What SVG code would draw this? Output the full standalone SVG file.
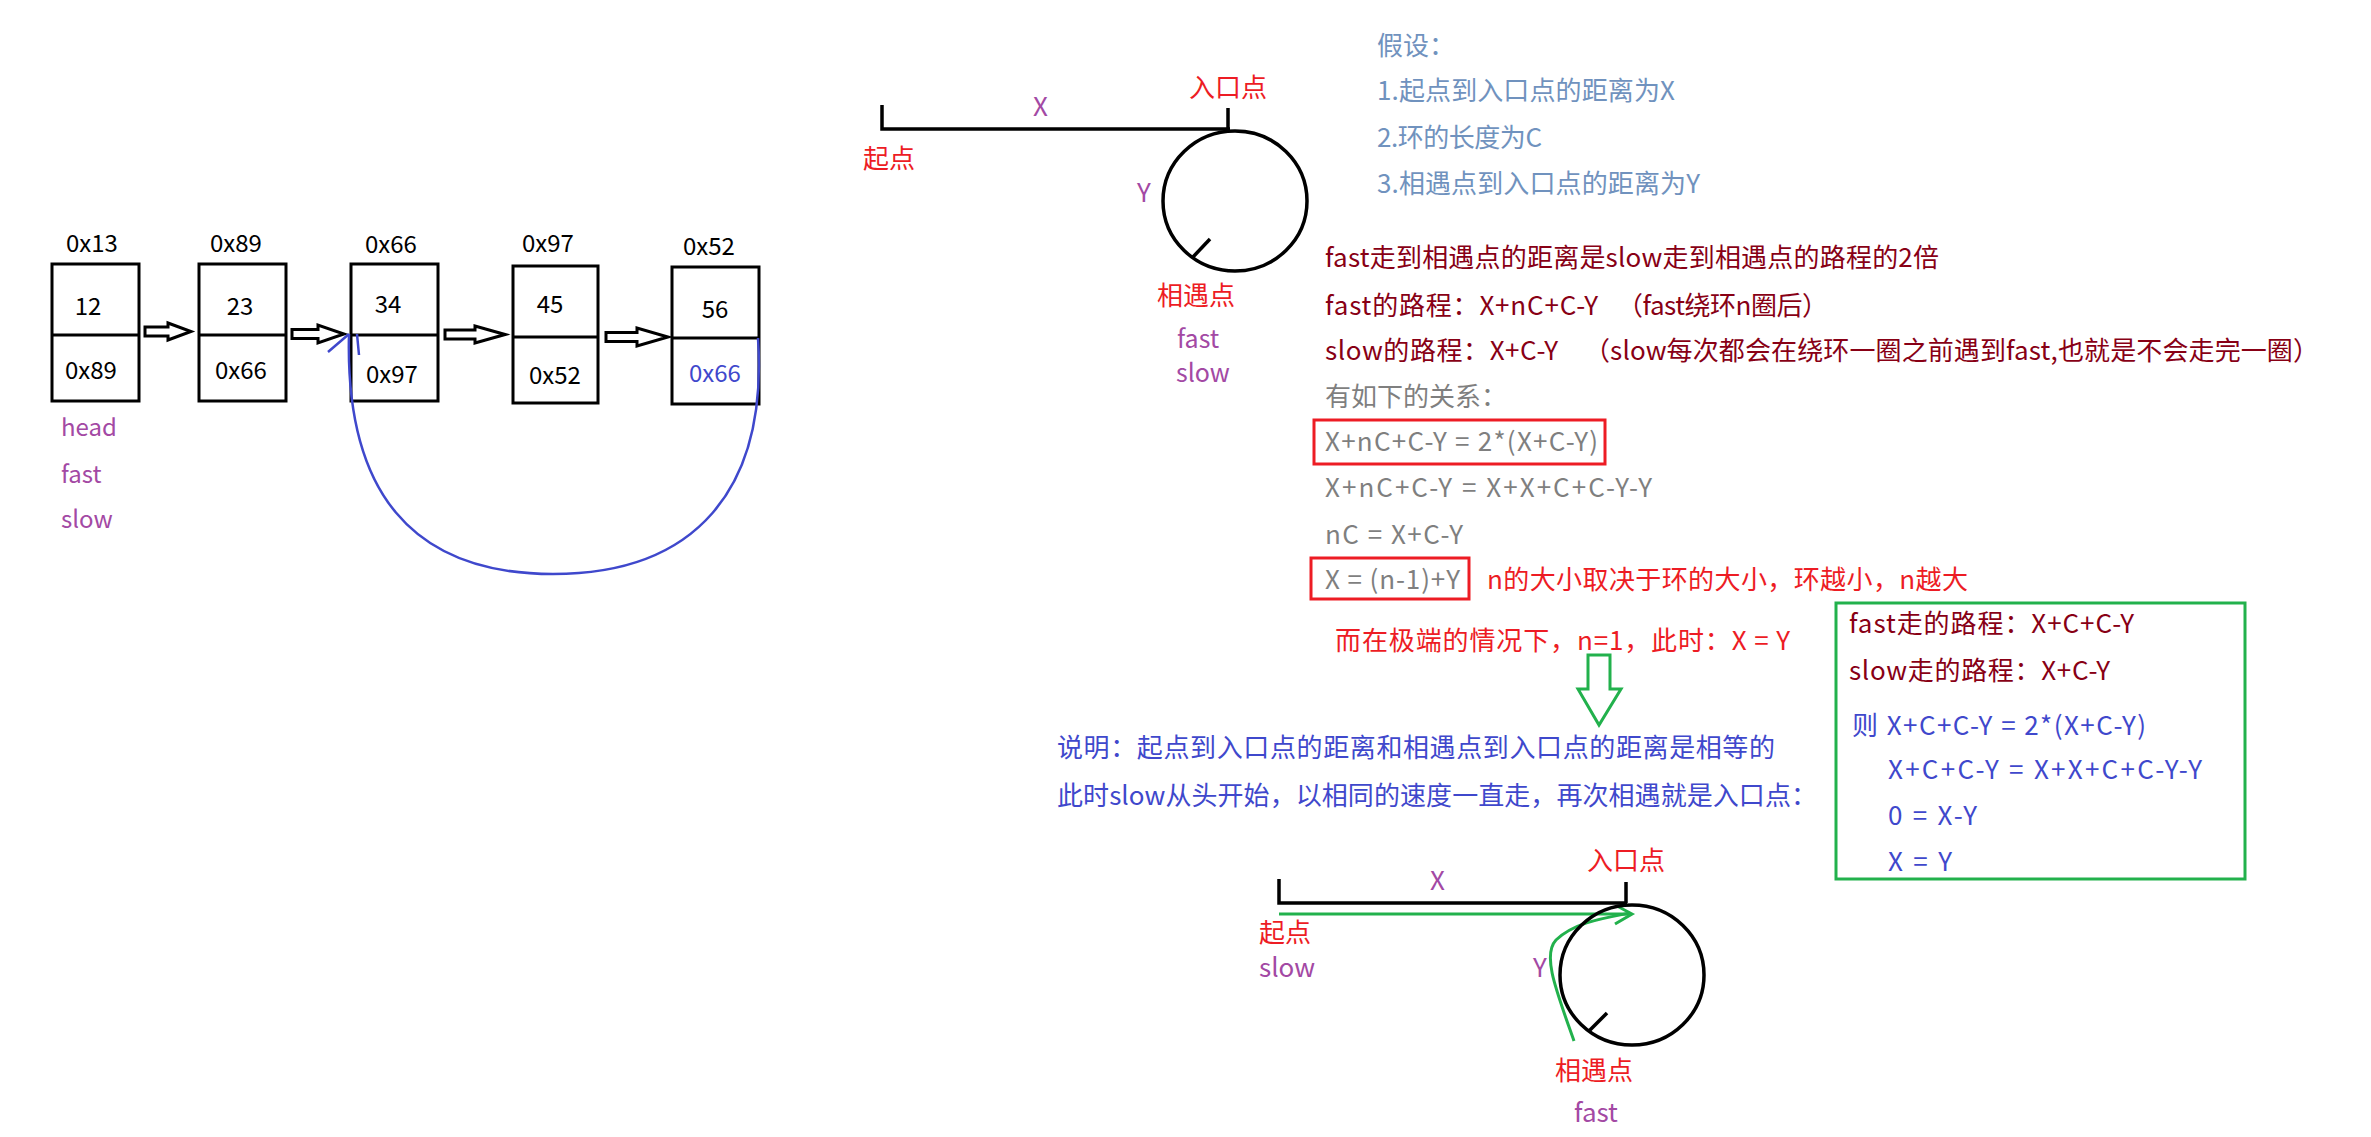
<svg xmlns="http://www.w3.org/2000/svg" width="2371" height="1137" viewBox="0 0 2371 1137">
<style>
text{font-family:'Noto Sans CJK SC','Noto Sans',sans-serif;font-size:26px}
.k{fill:#000}
.r{fill:#ed1c24}
.dr{fill:#880015}
.g{fill:#7f7f7f}
.p{fill:#a349a4}
.b{fill:#3f48cc}
.sb{fill:#7092be}
.box{fill:none;stroke:#000;stroke-width:3}
.ln{fill:none;stroke:#000;stroke-width:3.5}
.ba{fill:none;stroke:#000;stroke-width:3;stroke-linejoin:miter}
.rb{fill:none;stroke:#ed1c24;stroke-width:3}
.gb{fill:none;stroke:#22b14c;stroke-width:3}
.blue{fill:none;stroke:#3f48cc;stroke-width:2.5}
.grn{fill:none;stroke:#22b14c;stroke-width:3}
.m{text-anchor:middle;font-size:24px}
</style>
<rect width="2371" height="1137" fill="#fff"/>

<g id="node1">
<rect class="box" x="52" y="264" width="87" height="137"/>
<line class="box" x1="52" y1="335" x2="139" y2="335"/>
<text class="k m" x="92" y="252">0x13</text>
<text class="k m" x="88" y="315">12</text>
<text class="k m" x="91" y="379">0x89</text>
<text class="p" x="61" y="436" style="font-size:24px">head</text>
<text class="p" x="61" y="483" style="font-size:24px">fast</text>
<text class="p" x="61" y="528" style="font-size:24px">slow</text>
</g>
<g id="node2">
<rect class="box" x="199" y="264" width="87" height="137"/>
<line class="box" x1="199" y1="335" x2="286" y2="335"/>
<text class="k m" x="236" y="252">0x89</text>
<text class="k m" x="240" y="315">23</text>
<text class="k m" x="241" y="379">0x66</text>
</g>
<g id="node3">
<rect class="box" x="351" y="264" width="87" height="137"/>
<line class="box" x1="351" y1="335" x2="438" y2="335"/>
<text class="k m" x="391" y="253">0x66</text>
<text class="k m" x="388" y="313">34</text>
<text class="k m" x="392" y="383">0x97</text>
</g>
<g id="node4">
<rect class="box" x="513" y="266" width="85" height="137"/>
<line class="box" x1="513" y1="337" x2="598" y2="337"/>
<text class="k m" x="548" y="252">0x97</text>
<text class="k m" x="550" y="313">45</text>
<text class="k m" x="555" y="384">0x52</text>
</g>
<g id="node5">
<rect class="box" x="672" y="267" width="87" height="137"/>
<line class="box" x1="672" y1="338" x2="759" y2="338"/>
<text class="k m" x="709" y="255">0x52</text>
<text class="k m" x="715" y="318">56</text>
<text class="b m" x="715" y="382">0x66</text>
</g>

<g id="connectors">
<polygon class="ba" points="145,327 168,327 168,323 191,331.5 168,340 168,336 145,336"/>
<polygon class="ba" points="292,329.5 318,329.5 318,325 344,334 318,343 318,338.5 292,338.5"/>
<polygon class="ba" points="445,330 475,330 475,326 505,334.5 475,343 475,339 445,339"/>
<polygon class="ba" points="606,332.5 637,332.5 637,328 668,337 637,346 637,341.5 606,341.5"/>
<path class="blue" d="M758,338 C768,490 695,574 553,574 C410,574 345,490 349,334"/>
<path class="blue" d="M328,352 L349,334 M359,355 L357,334"/>
<polygon class="gb" points="1588,655 1610,655 1610,689 1621,689 1599,725 1578,689 1588,689"/>
<path class="grn" d="M1279,914 L1630,914"/>
<path class="grn" d="M1574,1041 C1556,990 1542,955 1556,940 C1575,922 1605,918 1630,913"/>
<path class="grn" d="M1617,906 L1632,914 L1615,924"/>
</g>

<g id="loop-top">
<path class="ln" d="M882,105 V129 H1230 M1228,108 V129"/>
<ellipse class="ln" cx="1235" cy="201" rx="72" ry="70"/>
<line class="ln" x1="1193" y1="257" x2="1210" y2="239"/>
<text class="p" x="1033" y="116">X</text>
<text class="r" x="1189" y="97">入口点</text>
<text class="r" x="863" y="168">起点</text>
<text class="p" x="1137" y="202">Y</text>
<text class="r" x="1157" y="305">相遇点</text>
<text class="p" x="1177" y="348" style="font-size:25px">fast</text>
<text class="p" x="1176" y="382" style="font-size:25px">slow</text>
</g>

<g id="assumptions">
<text class="sb" x="1377" y="55">假设：</text>
<text class="sb" x="1377" y="100" textLength="298">1.起点到入口点的距离为X</text>
<text class="sb" x="1377" y="147" textLength="165">2.环的长度为C</text>
<text class="sb" x="1377" y="193" textLength="323">3.相遇点到入口点的距离为Y</text>
</g>

<g id="derivation">
<text class="dr" x="1325" y="267" textLength="614">fast走到相遇点的距离是slow走到相遇点的路程的2倍</text>
<text class="dr" x="1325" y="315" textLength="273">fast的路程：X+nC+C-Y</text>
<text class="dr" x="1617" y="315" textLength="211">（fast绕环n圈后）</text>
<text class="dr" x="1325" y="360" textLength="233">slow的路程：X+C-Y</text>
<text class="dr" x="1584" y="360" textLength="735">（slow每次都会在绕环一圈之前遇到fast,也就是不会走完一圈）</text>
<text class="g" x="1325" y="406">有如下的关系：</text>
<rect class="rb" x="1314" y="420" width="291" height="44"/>
<text class="g" x="1325" y="451" textLength="273">X+nC+C-Y = 2*(X+C-Y)</text>
<text class="g" x="1325" y="497" textLength="327">X+nC+C-Y = X+X+C+C-Y-Y</text>
<text class="g" x="1325" y="544" textLength="138">nC = X+C-Y</text>
<rect class="rb" x="1311" y="558" width="158" height="41"/>
<text class="g" x="1325" y="589" textLength="135">X = (n-1)+Y</text>
<text class="r" x="1487" y="589" textLength="481">n的大小取决于环的大小，环越小，n越大</text>
<text class="r" x="1335" y="650" textLength="455">而在极端的情况下，n=1，此时：X = Y</text>
</g>

<g id="explain">
<text class="b" x="1057" y="757" textLength="718">说明：起点到入口点的距离和相遇点到入口点的距离是相等的</text>
<text class="b" x="1057" y="805" textLength="760">此时slow从头开始，以相同的速度一直走，再次相遇就是入口点：</text>
</g>

<g id="proof-box">
<rect class="gb" x="1836" y="603" width="409" height="276"/>
<text class="dr" x="1849" y="633" textLength="285">fast走的路程：X+C+C-Y</text>
<text class="dr" x="1849" y="680" textLength="261">slow走的路程：X+C-Y</text>
<text class="b" x="1852" y="735" textLength="294">则 X+C+C-Y = 2*(X+C-Y)</text>
<text class="b" x="1888" y="779" textLength="314">X+C+C-Y = X+X+C+C-Y-Y</text>
<text class="b" x="1888" y="825" textLength="89">0 = X-Y</text>
<text class="b" x="1888" y="871" textLength="64">X = Y</text>
</g>

<g id="loop-bottom">
<path class="ln" d="M1279,879 V903 H1627 M1626,882 V903"/>
<ellipse class="ln" cx="1632" cy="975" rx="72" ry="70"/>
<line class="ln" x1="1589" y1="1031" x2="1607" y2="1013"/>
<text class="p" x="1430" y="890">X</text>
<text class="r" x="1587" y="870">入口点</text>
<text class="r" x="1259" y="942">起点</text>
<text class="p" x="1259" y="977">slow</text>
<text class="p" x="1533" y="977">Y</text>
<text class="r" x="1555" y="1080">相遇点</text>
<text class="p" x="1574" y="1122">fast</text>
</g>
</svg>
